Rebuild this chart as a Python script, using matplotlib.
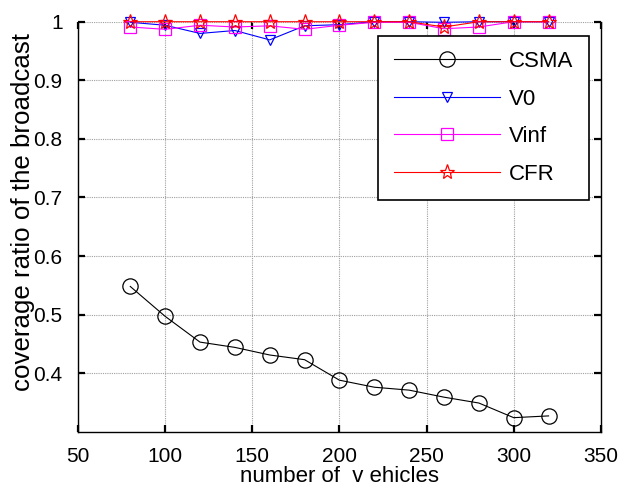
import matplotlib
matplotlib.use("Agg")
import matplotlib.pyplot as plt

plt.rcParams['font.family'] = ['Liberation Sans', 'DejaVu Sans']

# number of vehicles on the road
vehicles = [80, 100, 120, 140, 160, 180, 200, 220, 240, 260, 280, 300, 320]

# coverage ratio of the broadcast for each scheme
csma = [0.548, 0.497, 0.453, 0.444, 0.431, 0.423, 0.388, 0.376, 0.371, 0.359, 0.349, 0.324, 0.327]
v0 = [0.999, 0.994, 0.980, 0.985, 0.969, 0.993, 0.995, 1.0, 1.0, 0.999, 1.0, 1.0, 1.0]
vinf = [0.991, 0.987, 0.994, 0.991, 0.993, 0.987, 0.994, 0.999, 0.999, 0.988, 0.991, 1.0, 1.0]
cfr = [1.0, 1.0, 1.0, 1.0, 1.0, 1.0, 1.0, 1.0, 1.0, 0.991, 1.0, 1.0, 1.0]

xticks = [50, 100, 150, 200, 250, 300, 350]
yticks = [0.4, 0.5, 0.6, 0.7, 0.8, 0.9, 1.0]
ytick_labels = ['0.4', '0.5', '0.6', '0.7', '0.8', '0.9', '1']

fig = plt.figure(figsize=(6.22, 4.87), dpi=100)
ax = fig.add_axes([0.1254, 0.1135, 0.966 - 0.1254, 0.9554 - 0.1135])

lw = 0.8
ax.plot(vehicles, csma, color='black', lw=lw, marker='o', ms=11,
        mfc='none', mew=0.9, label='CSMA', clip_on=False)
ax.plot(vehicles, v0, color='blue', lw=lw, marker='v', ms=7,
        mfc='none', mew=0.9, label='V0', clip_on=False)
ax.plot(vehicles, vinf, color='magenta', lw=lw, marker='s', ms=8,
        mfc='none', mew=0.9, label='Vinf', clip_on=False)
ax.plot(vehicles, cfr, color='red', lw=lw, marker='*', ms=11,
        mfc='none', mew=0.9, label='CFR', clip_on=False)

ax.set_xlim(50, 350)
ax.set_ylim(0.3, 1.0)
ax.set_xticks(xticks)
ax.set_xticklabels([str(t) for t in xticks])
ax.set_yticks(yticks)
ax.set_yticklabels(ytick_labels)

ax.grid(True, color='#a0a0a0', linestyle=(0, (1, 1)), linewidth=0.8)
ax.set_axisbelow(True)

ax.spines['top'].set_visible(False)
for side in ('left', 'right', 'bottom'):
    ax.spines[side].set_linewidth(1.0)
    ax.spines[side].set_color('black')

ax.tick_params(axis='both', which='major', direction='in', length=5, width=1.6,
               labelsize=15, top=True, right=True, pad=11)

ax.set_xlabel('number of  v ehicles', fontsize=16, labelpad=0)
ax.set_ylabel('coverage ratio of the broadcast', fontsize=18.6)
ax.yaxis.set_label_coords(-0.082, 0.535)

leg = ax.legend(loc='upper right', bbox_to_anchor=(589 / 622, 1 - 35.7 / 487),
                bbox_transform=fig.transFigure, borderaxespad=0,
                fontsize=16, handlelength=4.8, handletextpad=0.4,
                labelspacing=0.74, borderpad=0.7, fancybox=False,
                framealpha=1, edgecolor='black')
leg.get_frame().set_linewidth(1.2)

fig.savefig('out.png', dpi=100)
